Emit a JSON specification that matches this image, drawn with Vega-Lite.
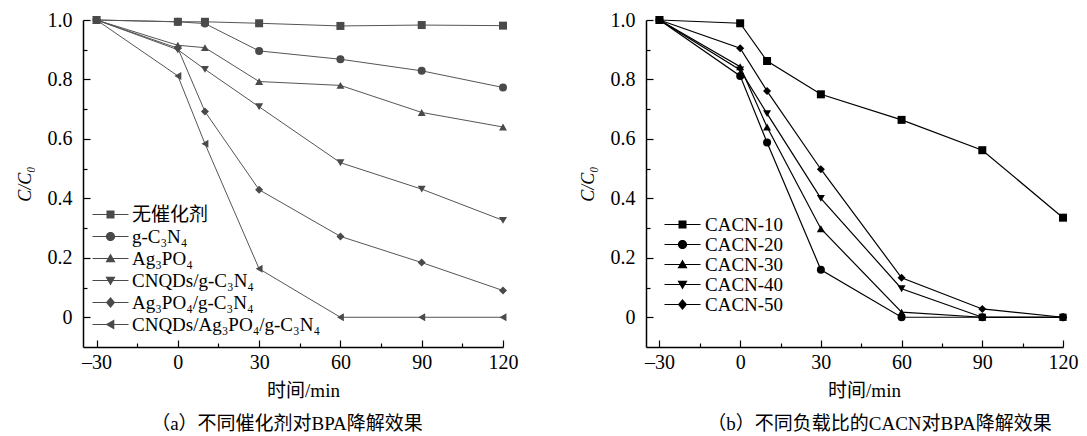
{
  "$schema": "https://vega.github.io/schema/vega-lite/v6.json",
  "padding": {"left": 16, "top": 10, "right": 5, "bottom": 0},
  "background": "white",
  "config": {
    "view": {"stroke": null},
    "font": "Liberation Serif",
    "axis": {
      "domainColor": "#000", "domainWidth": 1.5, "tickColor": "#000", "tickWidth": 1.2,
      "grid": false, "labelFont": "Liberation Serif", "labelFontSize": 20, "labelColor": "#000",
      "titleFont": "Liberation Serif, Noto Sans CJK SC", "titleFontSize": 19, "titleFontWeight": "normal", "titleColor": "#000"
    },
    "legend": {"labelFont": "Liberation Serif, Noto Sans CJK SC", "labelFontSize": 19, "labelColor": "#000", "labelLimit": 400}
  },
  "datasets": {
    "a": [
      {"t": -30, "v": 1.0, "s": "无催化剂"}, {"t": 0, "v": 0.994, "s": "无催化剂"}, {"t": 10, "v": 0.994, "s": "无催化剂"}, {"t": 30, "v": 0.989, "s": "无催化剂"}, {"t": 60, "v": 0.98, "s": "无催化剂"}, {"t": 90, "v": 0.983, "s": "无催化剂"}, {"t": 120, "v": 0.981, "s": "无催化剂"},
      {"t": -30, "v": 1.0, "s": "g-C₃N₄"}, {"t": 0, "v": 0.994, "s": "g-C₃N₄"}, {"t": 10, "v": 0.988, "s": "g-C₃N₄"}, {"t": 30, "v": 0.896, "s": "g-C₃N₄"}, {"t": 60, "v": 0.868, "s": "g-C₃N₄"}, {"t": 90, "v": 0.829, "s": "g-C₃N₄"}, {"t": 120, "v": 0.773, "s": "g-C₃N₄"},
      {"t": -30, "v": 1.0, "s": "Ag₃PO₄"}, {"t": 0, "v": 0.915, "s": "Ag₃PO₄"}, {"t": 10, "v": 0.907, "s": "Ag₃PO₄"}, {"t": 30, "v": 0.793, "s": "Ag₃PO₄"}, {"t": 60, "v": 0.78, "s": "Ag₃PO₄"}, {"t": 90, "v": 0.689, "s": "Ag₃PO₄"}, {"t": 120, "v": 0.64, "s": "Ag₃PO₄"},
      {"t": -30, "v": 1.0, "s": "CNQDs/g-C₃N₄"}, {"t": 0, "v": 0.9, "s": "CNQDs/g-C₃N₄"}, {"t": 10, "v": 0.834, "s": "CNQDs/g-C₃N₄"}, {"t": 30, "v": 0.708, "s": "CNQDs/g-C₃N₄"}, {"t": 60, "v": 0.52, "s": "CNQDs/g-C₃N₄"}, {"t": 90, "v": 0.431, "s": "CNQDs/g-C₃N₄"}, {"t": 120, "v": 0.326, "s": "CNQDs/g-C₃N₄"},
      {"t": -30, "v": 1.0, "s": "Ag₃PO₄/g-C₃N₄"}, {"t": 0, "v": 0.905, "s": "Ag₃PO₄/g-C₃N₄"}, {"t": 10, "v": 0.692, "s": "Ag₃PO₄/g-C₃N₄"}, {"t": 30, "v": 0.429, "s": "Ag₃PO₄/g-C₃N₄"}, {"t": 60, "v": 0.272, "s": "Ag₃PO₄/g-C₃N₄"}, {"t": 90, "v": 0.184, "s": "Ag₃PO₄/g-C₃N₄"}, {"t": 120, "v": 0.09, "s": "Ag₃PO₄/g-C₃N₄"},
      {"t": -30, "v": 1.0, "s": "CNQDs/Ag₃PO₄/g-C₃N₄"}, {"t": 0, "v": 0.812, "s": "CNQDs/Ag₃PO₄/g-C₃N₄"}, {"t": 10, "v": 0.584, "s": "CNQDs/Ag₃PO₄/g-C₃N₄"}, {"t": 30, "v": 0.163, "s": "CNQDs/Ag₃PO₄/g-C₃N₄"}, {"t": 60, "v": 0.0, "s": "CNQDs/Ag₃PO₄/g-C₃N₄"}, {"t": 90, "v": 0.0, "s": "CNQDs/Ag₃PO₄/g-C₃N₄"}, {"t": 120, "v": 0.0, "s": "CNQDs/Ag₃PO₄/g-C₃N₄"}
    ],
    "b": [
      {"t": -30, "v": 1.0, "s": "CACN-10"}, {"t": 0, "v": 0.989, "s": "CACN-10"}, {"t": 10, "v": 0.862, "s": "CACN-10"}, {"t": 30, "v": 0.75, "s": "CACN-10"}, {"t": 60, "v": 0.664, "s": "CACN-10"}, {"t": 90, "v": 0.562, "s": "CACN-10"}, {"t": 120, "v": 0.335, "s": "CACN-10"},
      {"t": -30, "v": 1.0, "s": "CACN-20"}, {"t": 0, "v": 0.812, "s": "CACN-20"}, {"t": 10, "v": 0.588, "s": "CACN-20"}, {"t": 30, "v": 0.16, "s": "CACN-20"}, {"t": 60, "v": 0.0, "s": "CACN-20"}, {"t": 90, "v": 0.0, "s": "CACN-20"}, {"t": 120, "v": 0.0, "s": "CACN-20"},
      {"t": -30, "v": 1.0, "s": "CACN-30"}, {"t": 0, "v": 0.843, "s": "CACN-30"}, {"t": 10, "v": 0.64, "s": "CACN-30"}, {"t": 30, "v": 0.298, "s": "CACN-30"}, {"t": 60, "v": 0.017, "s": "CACN-30"}, {"t": 90, "v": 0.0, "s": "CACN-30"}, {"t": 120, "v": 0.0, "s": "CACN-30"},
      {"t": -30, "v": 1.0, "s": "CACN-40"}, {"t": 0, "v": 0.832, "s": "CACN-40"}, {"t": 10, "v": 0.685, "s": "CACN-40"}, {"t": 30, "v": 0.4, "s": "CACN-40"}, {"t": 60, "v": 0.096, "s": "CACN-40"}, {"t": 90, "v": 0.0, "s": "CACN-40"}, {"t": 120, "v": 0.0, "s": "CACN-40"},
      {"t": -30, "v": 1.0, "s": "CACN-50"}, {"t": 0, "v": 0.905, "s": "CACN-50"}, {"t": 10, "v": 0.761, "s": "CACN-50"}, {"t": 30, "v": 0.498, "s": "CACN-50"}, {"t": 60, "v": 0.133, "s": "CACN-50"}, {"t": 90, "v": 0.028, "s": "CACN-50"}, {"t": 120, "v": 0.0, "s": "CACN-50"}
    ]
  },
  "spacing": 58,
  "resolve": {"scale": {"shape": "independent", "x": "independent", "y": "independent"}, "legend": {"shape": "independent"}},
  "hconcat": [
    {
      "width": 420, "height": 327,
      "data": {"name": "a"},
      "title": {"text": "（a）不同催化剂对BPA降解效果", "orient": "bottom", "anchor": "middle", "font": "Liberation Serif, Noto Sans CJK SC", "fontSize": 19, "fontWeight": "normal", "color": "#000", "offset": 15, "dx": -6},
      "encoding": {
        "x": {"field": "t", "type": "quantitative", "scale": {"domain": [-35, 120], "nice": false, "zero": false},
          "axis": {"title": "时间/min", "titleX": 220, "titlePadding": 9, "values": [-30, -15, 0, 15, 30, 45, 60, 75, 90, 105, 120],
            "labelExpr": "datum.value % 30 === 0 ? replace(format(datum.value, 'd'), '−', '–') : ''",
            "tickSize": {"condition": {"test": "datum.value % 30 === 0", "value": -7}, "value": -4}, "labelPadding": 12, "labelFlush": false}},
        "y": {"field": "v", "type": "quantitative", "scale": {"domain": [-0.1, 1.0], "nice": false, "zero": false},
          "axis": {"title": "C/C₀", "titleFontStyle": "italic", "titleFont": "Liberation Serif", "titleFontSize": 18, "titlePadding": 13, "values": [0, 0.1, 0.2, 0.3, 0.4, 0.5, 0.6, 0.7, 0.8, 0.9, 1.0],
            "labelExpr": "round(datum.value * 10) % 2 === 0 ? (datum.value === 0 ? '0' : format(datum.value, '.1f')) : ''",
            "tickSize": {"condition": {"test": "round(datum.value * 10) % 2 === 0", "value": -7}, "value": -4}, "labelPadding": 18, "labelFlush": false}}
      },
      "resolve": {"scale": {"shape": "independent"}, "legend": {"shape": "independent"}},
      "layer": [
        {"mark": {"type": "line", "color": "#555", "strokeWidth": 1}, "encoding": {"detail": {"field": "s"}}},
        {"mark": {"type": "point", "filled": true, "opacity": 1, "color": "#4a4a4a", "size": 64},
          "encoding": {"shape": {"field": "s", "type": "nominal", "legend": null,
            "scale": {"domain": ["无催化剂", "g-C₃N₄", "Ag₃PO₄", "CNQDs/g-C₃N₄", "Ag₃PO₄/g-C₃N₄", "CNQDs/Ag₃PO₄/g-C₃N₄"], "range": ["square", "circle", "triangle-up", "triangle-down", "diamond", "triangle-left"]}}}
        },
        {"mark": {"type": "point", "filled": true, "opacity": 0, "color": "#4a4a4a", "size": 64},
          "encoding": {"shape": {"field": "s", "type": "nominal",
            "scale": {"domain": ["无催化剂", "g-C₃N₄", "Ag₃PO₄", "CNQDs/g-C₃N₄", "Ag₃PO₄/g-C₃N₄", "CNQDs/Ag₃PO₄/g-C₃N₄"],
              "range": ["M-4.5,-0.13H4.5V0.13H-4.5ZM-1,-1H1V1H-1Z", "M-4.5,-0.13H4.5V0.13H-4.5ZM1.15,0A1.15,1.15 0 1,1 -1.15,0A1.15,1.15 0 1,1 1.15,0Z", "M-4.5,-0.13H4.5V0.13H-4.5ZM0,-1.25L1.25,0.95H-1.25Z", "M-4.5,-0.13H4.5V0.13H-4.5ZM0,1.25L-1.25,-0.95H1.25Z", "M-4.5,-0.13H4.5V0.13H-4.5ZM0,-1.35L1.15,0L0,1.35L-1.15,0Z", "M-4.5,-0.13H4.5V0.13H-4.5ZM-1.25,0L0.95,-1.25V1.25Z"]},
            "legend": {"title": null, "orient": "none", "legendX": 18, "legendY": 185, "padding": 0, "rowPadding": 2, "labelOffset": 12, "symbolSize": 64, "symbolOpacity": 1, "symbolFillColor": "#4a4a4a"}}}
        }
      ]
    },
    {
      "width": 417, "height": 327,
      "data": {"name": "b"},
      "title": {"text": "（b）不同负载比的CACN对BPA降解效果", "orient": "bottom", "anchor": "middle", "font": "Liberation Serif, Noto Sans CJK SC", "fontSize": 19, "fontWeight": "normal", "color": "#000", "offset": 15, "dx": 25},
      "encoding": {
        "x": {"field": "t", "type": "quantitative", "scale": {"domain": [-35, 120], "nice": false, "zero": false},
          "axis": {"title": "时间/min", "titleX": 218, "titlePadding": 9, "values": [-30, -15, 0, 15, 30, 45, 60, 75, 90, 105, 120],
            "labelExpr": "datum.value % 30 === 0 ? replace(format(datum.value, 'd'), '−', '–') : ''",
            "tickSize": {"condition": {"test": "datum.value % 30 === 0", "value": -7}, "value": -4}, "labelPadding": 12, "labelFlush": false}},
        "y": {"field": "v", "type": "quantitative", "scale": {"domain": [-0.1, 1.0], "nice": false, "zero": false},
          "axis": {"title": "C/C₀", "titleFontStyle": "italic", "titleFont": "Liberation Serif", "titleFontSize": 18, "titlePadding": 13, "values": [0, 0.1, 0.2, 0.3, 0.4, 0.5, 0.6, 0.7, 0.8, 0.9, 1.0],
            "labelExpr": "round(datum.value * 10) % 2 === 0 ? (datum.value === 0 ? '0' : format(datum.value, '.1f')) : ''",
            "tickSize": {"condition": {"test": "round(datum.value * 10) % 2 === 0", "value": -7}, "value": -4}, "labelPadding": 18, "labelFlush": false}}
      },
      "resolve": {"scale": {"shape": "independent"}, "legend": {"shape": "independent"}},
      "layer": [
        {"mark": {"type": "line", "color": "#000", "strokeWidth": 1.2}, "encoding": {"detail": {"field": "s"}}},
        {"mark": {"type": "point", "filled": true, "opacity": 1, "color": "#000", "size": 64},
          "encoding": {"shape": {"field": "s", "type": "nominal", "legend": null,
            "scale": {"domain": ["CACN-10", "CACN-20", "CACN-30", "CACN-40", "CACN-50"], "range": ["square", "circle", "triangle-up", "triangle-down", "diamond"]}}}
        },
        {"mark": {"type": "point", "filled": true, "opacity": 0, "color": "#000", "size": 64},
          "encoding": {"shape": {"field": "s", "type": "nominal",
            "scale": {"domain": ["CACN-10", "CACN-20", "CACN-30", "CACN-40", "CACN-50"],
              "range": ["M-4.5,-0.15H4.5V0.15H-4.5ZM-1,-1H1V1H-1Z", "M-4.5,-0.15H4.5V0.15H-4.5ZM1.15,0A1.15,1.15 0 1,1 -1.15,0A1.15,1.15 0 1,1 1.15,0Z", "M-4.5,-0.15H4.5V0.15H-4.5ZM0,-1.25L1.25,0.95H-1.25Z", "M-4.5,-0.15H4.5V0.15H-4.5ZM0,1.25L-1.25,-0.95H1.25Z", "M-4.5,-0.15H4.5V0.15H-4.5ZM0,-1.35L1.15,0L0,1.35L-1.15,0Z"]},
            "legend": {"title": null, "orient": "none", "legendX": 27, "legendY": 195, "padding": 0, "rowPadding": 0, "labelOffset": 13, "symbolSize": 64, "symbolOpacity": 1, "symbolFillColor": "#000"}}}
        }
      ]
    }
  ]
}
